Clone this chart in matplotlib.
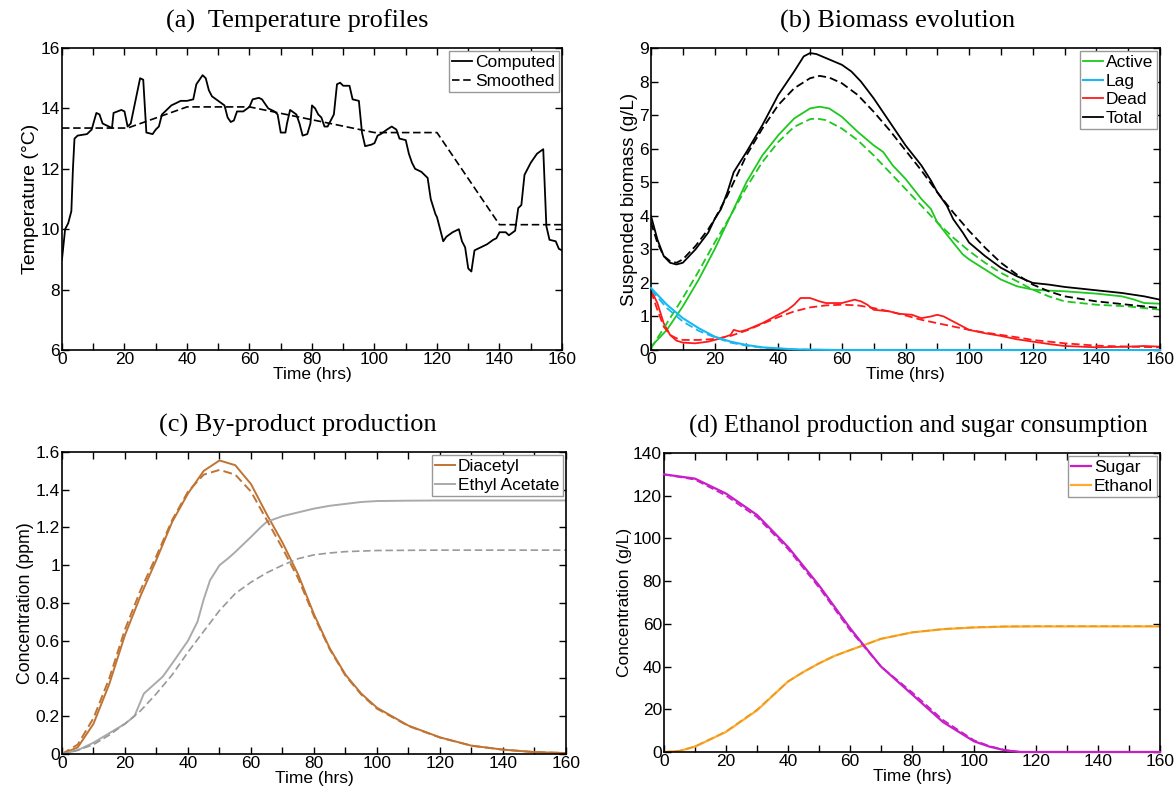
import numpy as np
import matplotlib
matplotlib.use("Agg")
import matplotlib.pyplot as plt
from matplotlib.ticker import MultipleLocator, FuncFormatter

plt.rcParams['font.family'] = ['Liberation Sans', 'DejaVu Sans']
plt.rcParams['font.size'] = 12.5

# (a) temperature profiles
temp_t = [0, 1, 2, 3, 3.5, 4, 5, 8, 9.5, 11, 12, 13, 16, 16.5, 19, 20, 21, 22, 24, 25, 26, 27,
          29, 30, 31, 32, 35, 37, 38, 40, 42, 43, 45, 46, 47, 48, 50, 52, 53, 54, 55, 56, 58,
          60, 61, 63, 64, 66, 68, 69, 70, 71.5, 72, 73, 75, 76, 77, 78.5, 79.5, 80, 81, 82, 83,
          84, 85, 86, 87, 88, 89, 90, 92, 93, 95, 96, 97, 99, 100, 101, 102, 104, 105.5, 107,
          108, 110, 111, 112, 113, 115, 117, 118, 119.5, 120, 121, 122, 123, 125, 127, 128, 129,
          130, 131, 132, 134, 136, 138, 139, 140, 142, 143, 145, 146, 147, 148, 150, 152, 154,
          155, 156, 158, 159, 160]
temp_computed = [9.0, 10.0, 10.2, 10.6, 12.0, 13.0, 13.1, 13.15, 13.3, 13.85, 13.8, 13.5, 13.35,
                 13.85, 13.95, 13.9, 13.4, 13.5, 14.5, 15.0, 14.95, 13.2, 13.15, 13.3, 13.4, 13.8,
                 14.1, 14.2, 14.25, 14.25, 14.3, 14.8, 15.1, 15.0, 14.6, 14.4, 14.25, 14.1, 13.7,
                 13.55, 13.6, 13.9, 13.9, 14.05, 14.3, 14.35, 14.3, 14.0, 13.9, 13.8, 13.2, 13.2,
                 13.5, 13.95, 13.8, 13.5, 13.1, 13.15, 13.5, 14.1, 14.0, 13.8, 13.7, 13.4, 13.4,
                 13.6, 13.8, 14.8, 14.85, 14.75, 14.75, 14.3, 14.25, 13.2, 12.75, 12.8, 12.85,
                 13.1, 13.15, 13.3, 13.4, 13.3, 13.0, 12.95, 12.5, 12.2, 12.0, 11.9, 11.7, 11.0,
                 10.5, 10.4, 10.0, 9.6, 9.75, 9.9, 10.0, 9.6, 9.4, 8.7, 8.6, 9.3, 9.4, 9.5, 9.65,
                 9.7, 9.9, 9.9, 9.8, 9.95, 10.7, 10.8, 11.8, 12.2, 12.5, 12.65, 10.1, 9.65, 9.6,
                 9.35, 9.3]
smooth_t = [0, 21, 40, 60, 100, 120, 140, 160]
temp_smoothed = [13.35, 13.35, 14.05, 14.05, 13.2, 13.2, 10.15, 10.15]

# (b) biomass
total_t = [0, 2, 4, 6, 8, 10, 14, 18, 20, 22, 24, 26, 28, 30, 35, 40, 45, 48, 50, 52, 55, 60, 63,
           66, 70, 75, 80, 85, 88, 90, 93, 95, 98, 100, 105, 110, 115, 120, 125, 130, 140, 148,
           155, 160]
total_solid = [4.0, 3.3, 2.8, 2.6, 2.55, 2.6, 3.0, 3.5, 3.9, 4.2, 4.7, 5.3, 5.6, 5.9, 6.7, 7.6,
               8.3, 8.75, 8.85, 8.82, 8.7, 8.5, 8.3, 8.0, 7.5, 6.8, 6.1, 5.5, 5.05, 4.7, 4.3, 3.9,
               3.5, 3.2, 2.8, 2.45, 2.2, 2.0, 1.95, 1.88, 1.78, 1.7, 1.6, 1.5]
total_dash_t = [0, 2, 4, 6, 8, 10, 14, 18, 20, 24, 28, 30, 35, 40, 45, 50, 53, 56, 60, 65, 70, 75,
                80, 85, 90, 95, 100, 105, 110, 115, 120, 125, 130, 140, 150, 160]
total_dashed = [3.8, 3.2, 2.8, 2.65, 2.6, 2.7, 3.1, 3.6, 3.9, 4.6, 5.4, 5.8, 6.6, 7.3, 7.8, 8.1,
                8.17, 8.12, 7.95, 7.6, 7.1, 6.55, 5.95, 5.35, 4.7, 4.1, 3.55, 3.05, 2.6, 2.25,
                1.95, 1.75, 1.6, 1.45, 1.35, 1.25]
active_t = [0, 5, 10, 15, 20, 25, 28, 30, 35, 40, 45, 50, 53, 56, 60, 65, 70, 73, 76, 80, 85, 88,
            90, 95, 98, 100, 105, 110, 115, 120, 125, 130, 140, 148, 152, 155, 160]
active_solid = [0.1, 0.6, 1.3, 2.1, 3.0, 4.0, 4.6, 5.0, 5.8, 6.4, 6.9, 7.2, 7.25, 7.2, 6.95, 6.5,
                6.1, 5.9, 5.5, 5.1, 4.5, 4.2, 3.8, 3.2, 2.85, 2.7, 2.4, 2.1, 1.9, 1.8, 1.77, 1.75,
                1.68, 1.6, 1.5, 1.4, 1.38]
active_dash_t = [0, 5, 10, 15, 20, 25, 30, 35, 40, 45, 50, 52, 55, 60, 65, 70, 75, 80, 85, 90, 95,
                 100, 105, 110, 115, 120, 125, 130, 140, 150, 160]
active_dashed = [0.05, 0.8, 1.55, 2.35, 3.2, 4.0, 4.85, 5.6, 6.2, 6.65, 6.88, 6.9, 6.85, 6.6, 6.25,
                 5.8, 5.3, 4.8, 4.3, 3.8, 3.35, 2.95, 2.6, 2.3, 2.05, 1.8, 1.6, 1.45, 1.35, 1.3, 1.2]
lag_t = [0, 5, 10, 15, 20, 25, 30, 35, 40, 45, 50, 60, 160]
lag_solid = [1.85, 1.35, 0.95, 0.65, 0.4, 0.25, 0.15, 0.08, 0.05, 0.02, 0.01, 0.0, 0.0]
lag_dashed = [1.8, 1.25, 0.85, 0.57, 0.38, 0.22, 0.13, 0.07, 0.04, 0.02, 0.01, 0.0, 0.0]
dead_t = [0, 2, 4, 6, 8, 10, 14, 18, 22, 25, 26, 28, 30, 35, 40, 43, 45, 47, 50, 53, 55, 60, 62,
          64, 66, 68, 70, 75, 78, 82, 85, 88, 90, 92, 95, 98, 100, 105, 110, 115, 120, 125, 130,
          140, 150, 155, 160]
dead_solid = [1.8, 1.4, 0.8, 0.45, 0.28, 0.22, 0.2, 0.25, 0.35, 0.45, 0.6, 0.55, 0.6, 0.8, 1.05,
              1.2, 1.35, 1.55, 1.55, 1.45, 1.4, 1.4, 1.45, 1.5, 1.45, 1.35, 1.2, 1.15, 1.08, 1.05,
              0.95, 1.0, 1.05, 1.0, 0.85, 0.7, 0.6, 0.5, 0.42, 0.32, 0.25, 0.18, 0.12, 0.08, 0.1,
              0.12, 0.1]
dead_dash_t = [0, 2, 4, 6, 8, 10, 15, 20, 25, 30, 35, 40, 45, 50, 55, 60, 65, 70, 75, 80, 85, 90,
               95, 100, 105, 110, 115, 120, 125, 130, 140, 150, 160]
dead_dashed = [1.75, 1.2, 0.7, 0.45, 0.35, 0.3, 0.3, 0.33, 0.42, 0.58, 0.78, 0.98, 1.15, 1.27,
               1.33, 1.35, 1.33, 1.25, 1.15, 1.03, 0.9, 0.8, 0.7, 0.6, 0.52, 0.45, 0.38, 0.3,
               0.25, 0.2, 0.13, 0.1, 0.08]

# (c) by-products
byp_t = [0, 5, 10, 15, 20, 25, 30, 35, 40, 45, 50, 55, 60, 65, 70, 75, 80, 85, 90, 95, 100, 110,
         120, 130, 140, 150, 160]
diacetyl_solid = [0, 0.035, 0.16, 0.37, 0.63, 0.84, 1.03, 1.23, 1.38, 1.5, 1.555, 1.53, 1.43,
                  1.27, 1.12, 0.95, 0.74, 0.56, 0.42, 0.32, 0.245, 0.15, 0.088, 0.044, 0.023,
                  0.01, 0.005]
diacetyl_dashed = [0, 0.05, 0.19, 0.4, 0.66, 0.87, 1.05, 1.24, 1.39, 1.48, 1.505, 1.48, 1.39,
                   1.24, 1.09, 0.93, 0.73, 0.555, 0.415, 0.315, 0.24, 0.148, 0.087, 0.044,
                   0.023, 0.01, 0.005]
ethyl_t = [0, 5, 10, 15, 20, 23, 25, 26, 28, 30, 32, 35, 40, 43, 45, 47, 50, 53, 55, 60, 63, 65,
           70, 75, 80, 85, 90, 95, 100, 110, 120, 160]
ethyl_solid = [0, 0.02, 0.06, 0.11, 0.16, 0.2, 0.28, 0.32, 0.35, 0.38, 0.41, 0.48, 0.6, 0.7,
               0.82, 0.92, 1.0, 1.04, 1.07, 1.15, 1.2, 1.23, 1.26, 1.28, 1.3, 1.315, 1.325,
               1.335, 1.34, 1.342, 1.343, 1.343]
ethyl_dash_t = [0, 5, 10, 15, 20, 25, 30, 35, 40, 45, 50, 55, 60, 65, 70, 75, 80, 85, 90, 100,
                120, 160]
ethyl_dashed = [0, 0.02, 0.05, 0.1, 0.16, 0.23, 0.32, 0.42, 0.54, 0.65, 0.76, 0.85, 0.91, 0.96,
                1.0, 1.035, 1.055, 1.065, 1.072, 1.078, 1.08, 1.08]

# (d) sugar / ethanol
se_t = [0, 10, 20, 30, 40, 50, 60, 64.4, 70, 80, 90, 100, 105, 110, 115, 120, 160]
sugar_solid = [130, 128, 121, 111, 96, 78, 58, 50, 40, 27, 14, 5, 2.5, 0.8, 0, 0, 0]
sugar_dashed = [130, 127.5, 120, 110, 95, 77, 57, 49.5, 40, 28, 15, 5.5, 2.8, 0.9, 0, 0, 0]
eth_t = [0, 5, 10, 20, 30, 40, 45, 50, 55, 60, 64.4, 70, 80, 90, 100, 110, 120, 160]
ethanol_solid = [0, 0.5, 2.5, 9.4, 19.5, 33, 37.5, 41.5, 45, 47.7, 50, 53, 56, 57.5, 58.3, 58.7,
                 58.8, 58.8]
ethanol_dashed = [0, 0.5, 2.6, 9.6, 19.8, 33, 37.5, 41.5, 45, 47.7, 50, 53, 56, 57.6, 58.4,
                  58.8, 58.9, 58.9]

GREEN = '#1ec81e'
BLUE = '#19b8f0'
RED = '#ff1a1a'
BROWN = '#bf7433'
GRAY = '#aaaaaa'
MAGENTA = '#c81ec8'
ORANGE = '#ffac2e'
DASH = (0, (4.5, 2.2))
FS = 12.5

fig = plt.figure(figsize=(11.74, 7.91), dpi=100)
ax_a = fig.add_axes([0.0528, 0.5575, 0.4259, 0.3818])
ax_b = fig.add_axes([0.5545, 0.5575, 0.4336, 0.3818])
ax_c = fig.add_axes([0.0528, 0.0468, 0.4293, 0.3818])
ax_d = fig.add_axes([0.5656, 0.0493, 0.4225, 0.3780])

fmt = FuncFormatter(lambda v, p: '%g' % round(v, 6))


def style(ax, ylim, ystep, ylabel, ylabel_fs, title, title_fs, title_x):
    ax.set_xlim(0, 160)
    ax.set_ylim(*ylim)
    ax.xaxis.set_major_locator(MultipleLocator(20))
    ax.xaxis.set_minor_locator(MultipleLocator(10))
    ax.yaxis.set_major_locator(MultipleLocator(ystep))
    ax.yaxis.set_major_formatter(fmt)
    ax.tick_params(which='both', direction='in', top=True, right=True, length=5, width=1,
                   labelsize=FS, pad=1.5)
    for s in ax.spines.values():
        s.set_linewidth(1.2)
    ax.set_xlabel('Time (hrs)', fontsize=FS, labelpad=0)
    ax.set_ylabel(ylabel, fontsize=ylabel_fs, labelpad=1)
    t = ax.set_title(title, fontsize=title_fs, family=['Liberation Serif', 'DejaVu Serif'],
                     pad=15)
    t.set_x(title_x)


def legend(ax):
    lg = ax.legend(loc='upper right', fontsize=FS, handlelength=1.15, handletextpad=0.15,
                   labelspacing=0.2, borderpad=0.2, borderaxespad=0.2, fancybox=False,
                   framealpha=1)
    lg.get_frame().set_edgecolor('#999999')
    lg.get_frame().set_linewidth(1.0)


# (a)
ax_a.plot(temp_t, temp_computed, color='black', lw=1.3, label='Computed')
ax_a.plot(smooth_t, temp_smoothed, color='black', lw=1.2, ls=DASH, label='Smoothed')
style(ax_a, (6, 16), 2, 'Temperature (\u00b0C)', 14, '(a)  Temperature profiles', 19, 0.47)
legend(ax_a)

# (b)
ax_b.plot(active_t, active_solid, color=GREEN, lw=1.3, label='Active')
ax_b.plot(lag_t, lag_solid, color=BLUE, lw=1.5, label='Lag', clip_on=False, zorder=3)
ax_b.plot(dead_t, dead_solid, color=RED, lw=1.3, label='Dead')
ax_b.plot(total_t, total_solid, color='black', lw=1.3, label='Total')
ax_b.plot(active_dash_t, active_dashed, color=GREEN, lw=1.3, ls=DASH)
ax_b.plot(lag_t, lag_dashed, color=BLUE, lw=1.3, ls=DASH)
ax_b.plot(dead_dash_t, dead_dashed, color=RED, lw=1.3, ls=DASH)
ax_b.plot(total_dash_t, total_dashed, color='black', lw=1.3, ls=DASH)
style(ax_b, (0, 9), 1, 'Suspended biomass (g/L)', 13.5, '(b) Biomass evolution', 19, 0.485)
legend(ax_b)

# (c)
ax_c.plot(byp_t, diacetyl_solid, color=BROWN, lw=1.4, label='Diacetyl')
ax_c.plot(ethyl_t, ethyl_solid, color=GRAY, lw=1.4, label='Ethyl Acetate')
ax_c.plot(byp_t, diacetyl_dashed, color=BROWN, lw=1.4, ls=DASH)
ax_c.plot(ethyl_dash_t, ethyl_dashed, color='#999999', lw=1.2, ls=DASH)
style(ax_c, (0, 1.6), 0.2, 'Concentration (ppm)', 12.8, '(c) By-product production', 19, 0.468)
legend(ax_c)

# (d)
ax_d.plot(se_t, sugar_solid, color=MAGENTA, lw=1.6, label='Sugar', clip_on=False, zorder=3)
ax_d.plot(eth_t, ethanol_solid, color=ORANGE, lw=1.6, label='Ethanol')
ax_d.plot(se_t, sugar_dashed, color=MAGENTA, lw=1.2, ls=DASH)
ax_d.plot(eth_t, ethanol_dashed, color='#e89a20', lw=1.2, ls=DASH)
style(ax_d, (0, 140), 20, 'Concentration (g/L)', 12.5,
      '(d) Ethanol production and sugar consumption', 17.7, 0.512)
legend(ax_d)

fig.savefig('out.png', dpi=100)
